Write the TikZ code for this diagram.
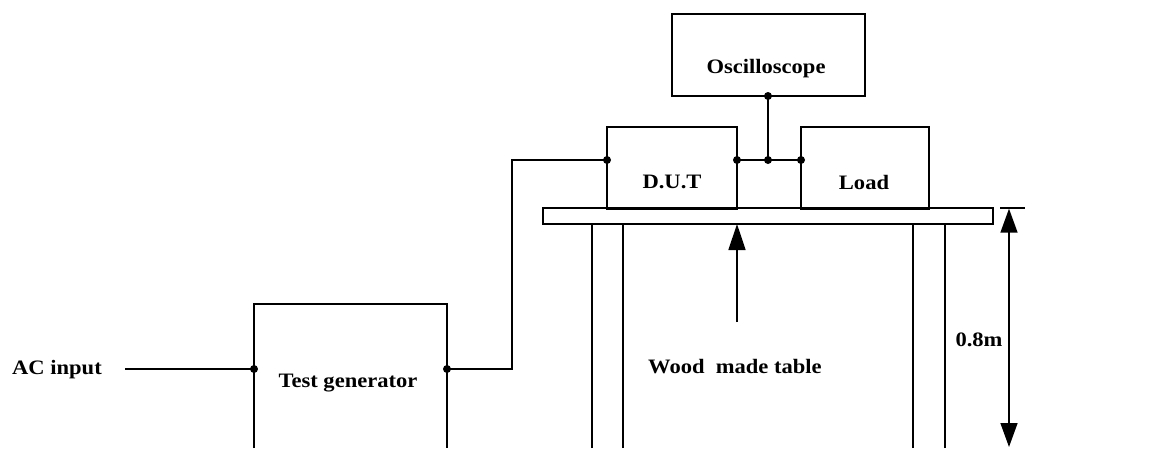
\documentclass[tikz,border=0pt]{standalone}
\usepackage{fontspec}
\setmainfont{Liberation Serif}
\usetikzlibrary{arrows.meta}
\begin{document}
\begin{tikzpicture}[x=1pt,y=-1pt,
  wire/.style={line width=1.5pt},
  box/.style={draw,line width=1.5pt,inner sep=0pt,rectangle},
  lbl/.style={font=\fontsize{20.5}{25}\selectfont\bfseries,inner sep=0pt,xscale=1.1,transform shape},
  dot/.style={circle,fill,inner sep=0pt,minimum size=8pt},
  arr/.style={-{Triangle[width=17pt,length=26pt]},line width=1.5pt},
  dimarr/.style={{Triangle[width=17pt,length=24pt]}-{Triangle[width=17pt,length=24pt]},line width=1.5pt}]
\useasboundingbox (0,0) rectangle (1167,448);
% boxes
\node[box,minimum width=193pt,minimum height=82pt] (osc) at (768.5,55) {};
\node[box,minimum width=130pt,minimum height=82pt] (dut) at (672,168) {};
\node[box,minimum width=128pt,minimum height=82pt] (load) at (865,168) {};
\node[box,minimum width=450pt,minimum height=16pt] (top) at (768,216) {};
% test generator (open at bottom)
\coordinate (tgBL) at (254,448);
\coordinate (tgBR) at (447,448);
\draw[wire] (tgBL) -- (254,304) -- (447,304) -- (tgBR);
% labels
\node[lbl] (tosc) at (766,69) {Oscilloscope};
\node[lbl] (tdut) at (672,182) {D.U.T};
\node[lbl] (tload) at (864,182) {Load};
\node[lbl] (ttg) at (348,383) {Test generator};
\node[lbl] (tac) at (57,370) {AC input};
\node[lbl] (twood) at (735,367) {Wood\ \ made table};
\node[lbl] (tdim) at (979,340) {0.8m};
% junction coordinates
\coordinate (tgL) at (254,369);
\coordinate (tgR) at (447,369);
\coordinate (dutL) at (607,160);
\coordinate (dutR) at (737,160);
\coordinate (mid) at (768,160);
\coordinate (loadL) at (801,160);
\coordinate (oscB) at (768,96);
\coordinate (acEnd) at (125,369);
% wires
\draw[wire] (acEnd) -- (tgL);
\draw[wire] (tgR) -- (512,369) -- (512,160) -- (dutL);
\draw[wire] (dutR) -- (loadL);
\draw[wire] (oscB) -- (mid);
\foreach \p in {tgL,tgR,dutL,dutR,mid,loadL,oscB} \node[dot] at (\p) {};
% table legs
\coordinate (l1) at (592,448); \coordinate (l2) at (623,448);
\coordinate (l3) at (913,448); \coordinate (l4) at (945,448);
\draw[wire] (l1) -- (592,224);
\draw[wire] (l2) -- (623,224);
\draw[wire] (l3) -- (913,224);
\draw[wire] (l4) -- (945,224);
% arrow to table
\coordinate (arrS) at (737,322);
\draw[arr] (arrS) -- (737,224);
% dimension
\coordinate (tick1) at (1000,208); \coordinate (tick2) at (1025,208);
\draw[wire] (tick1) -- (tick2);
\coordinate (dimB) at (1009,447);
\draw[dimarr] (dimB) -- (1009,208.7);
\end{tikzpicture}
\end{document}
